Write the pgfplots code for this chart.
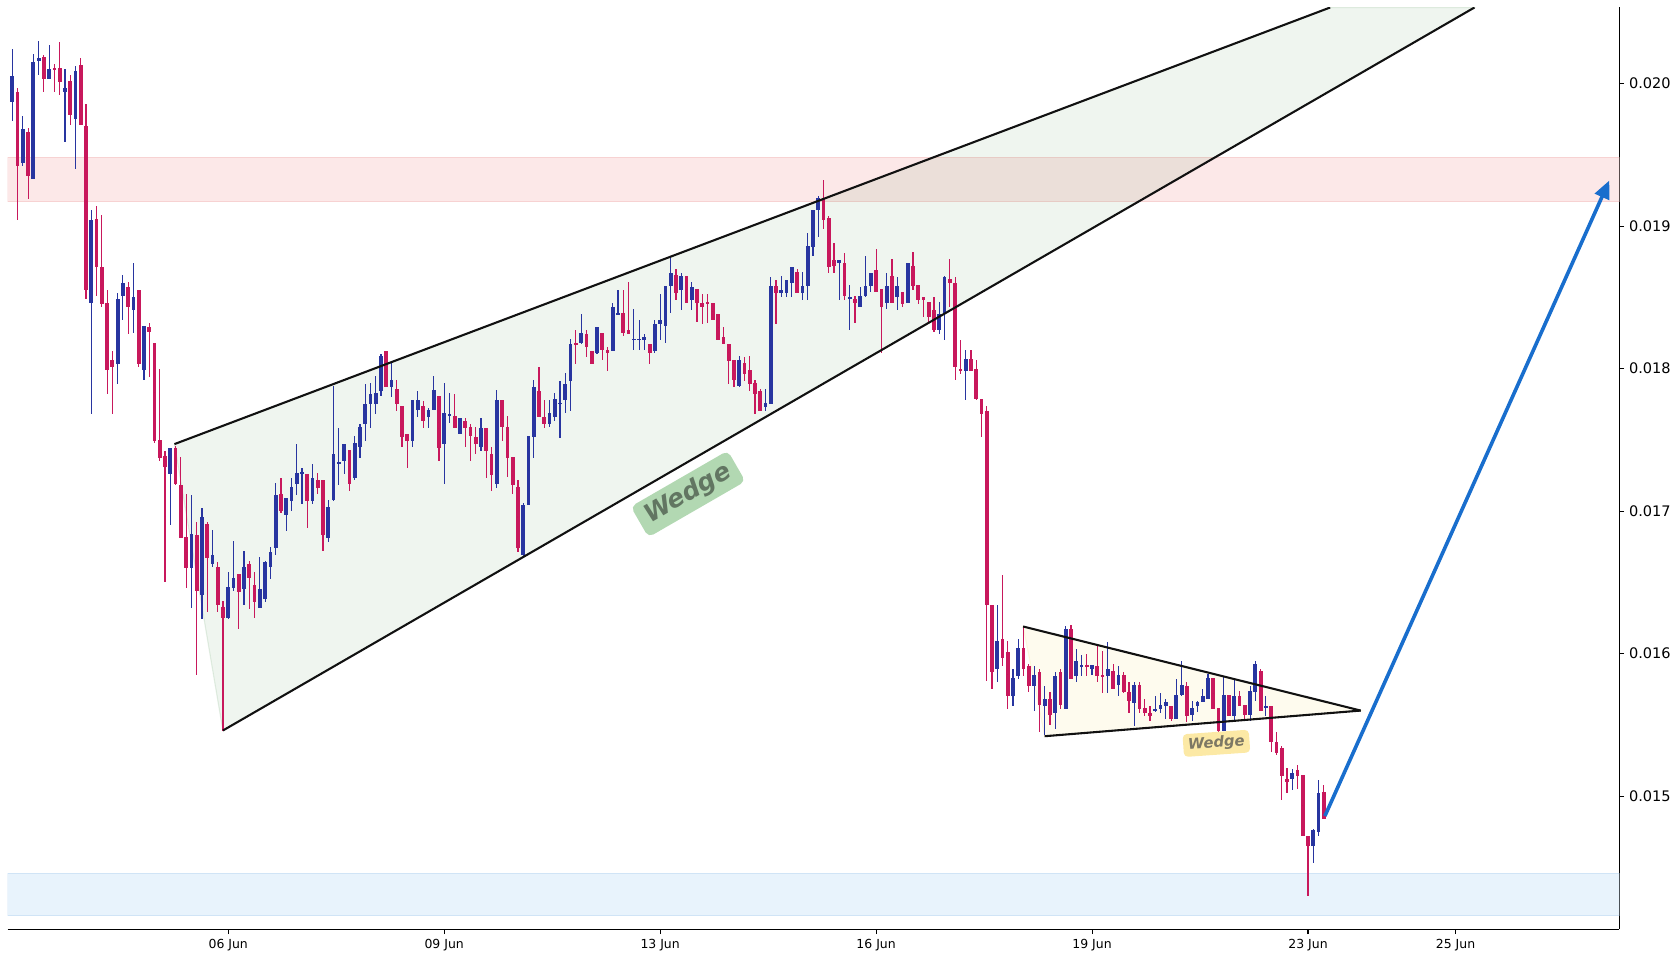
\documentclass[border=0pt]{standalone}
\usepackage{fontspec}
\setmainfont{DejaVu Sans}
\usepackage{pgfplots}
\usepackage{pgfplotstable}
\pgfplotsset{compat=1.18}
\usetikzlibrary{arrows.meta}
\definecolor{upc}{RGB}{40,53,160}
\definecolor{dnc}{RGB}{200,24,92}
\definecolor{bandRf}{RGB}{252,232,232}
\definecolor{bandRe}{RGB}{247,210,210}
\definecolor{bandBf}{RGB}{232,243,252}
\definecolor{bandBe}{RGB}{208,228,246}
\definecolor{wedgeG}{RGB}{46,125,50}
\definecolor{triY}{RGB}{240,200,40}
\definecolor{labG}{RGB}{178,216,178}
\definecolor{labGt}{RGB}{98,118,98}
\definecolor{labY}{RGB}{252,233,165}
\definecolor{labYt}{RGB}{125,120,100}
\definecolor{arrB}{RGB}{25,110,205}

\pgfplotstableread{
i o h l c
0 .01987 .02024 .01974 .02005
2 .01944 .01977 .01942 .01968
4 .01933 .02021 .01933 .02015
5 .02016 .02030 .02006 .02018
7 .02003 .02027 .02003 .02010
10 .01994 .02010 .01959 .01997
12 .01975 .02012 .01940 .02009
15 .01846 .01911 .01768 .01904
20 .01803 .01853 .01789 .01849
21 .01851 .01866 .01834 .01860
23 .01841 .01874 .01825 .01850
25 .01799 .01830 .01792 .01830
30 .01726 .01744 .01690 .01744
34 .01660 .01711 .01632 .01684
36 .01641 .01702 .01624 .01696
38 .01663 .01687 .01661 .01669
41 .01625 .01657 .01624 .01647
42 .01646 .01679 .01644 .01653
44 .01645 .01672 .01634 .01661
47 .01632 .01668 .01632 .01645
48 .01638 .01665 .01636 .01664
49 .01661 .01675 .01652 .01671
50 .01674 .01720 .01669 .01711
52 .01697 .01709 .01686 .01709
53 .01707 .01723 .01700 .01717
54 .01719 .01747 .01711 .01727
55 .01726 .01730 .01705 .01727
57 .01707 .01733 .01705 .01723
60 .01681 .01708 .01678 .01703
61 .01708 .01788 .01707 .01740
62 .01733 .01758 .01718 .01734
63 .01735 .01747 .01726 .01747
65 .01723 .01753 .01722 .01748
66 .01745 .01761 .01737 .01759
67 .01761 .01789 .01749 .01775
68 .01775 .01790 .01758 .01782
69 .01775 .01795 .01768 .01783
70 .01784 .01810 .01781 .01809
72 .01787 .01804 .01780 .01792
76 .01749 .01778 .01745 .01778
77 .01771 .01784 .01766 .01778
79 .01766 .01772 .01758 .01771
80 .01771 .01795 .01771 .01785
82 .01747 .01790 .01719 .01769
83 .01767 .01783 .01762 .01768
85 .01754 .01765 .01754 .01765
89 .01745 .01765 .01742 .01758
92 .01719 .01785 .01716 .01778
97 .01669 .01706 .01668 .01704
98 .01704 .01753 .01704 .01753
99 .01752 .01792 .01737 .01787
102 .01761 .01778 .01759 .01769
103 .01766 .01783 .01763 .01779
104 .01775 .01791 .01751 .01776
105 .01778 .01797 .01769 .01789
106 .01791 .01821 .01770 .01817
108 .01818 .01838 .01817 .01825
111 .01811 .01829 .01810 .01829
114 .01812 .01846 .01812 .01843
115 .01838 .01855 .01838 .01839
118 .01820 .01842 .01813 .01821
119 .01820 .01834 .01813 .01821
120 .01820 .01824 .01813 .01822
122 .01812 .01834 .01811 .01831
123 .01831 .01852 .01820 .01834
124 .01830 .01858 .01818 .01858
125 .01858 .01878 .01839 .01867
127 .01855 .01867 .01841 .01865
129 .01848 .01861 .01841 .01857
138 .01788 .01809 .01787 .01806
143 .01773 .01786 .01770 .01776
144 .01775 .01864 .01775 .01858
146 .01853 .01865 .01850 .01855
147 .01853 .01862 .01850 .01862
148 .01860 .01871 .01850 .01871
150 .01853 .01868 .01848 .01858
151 .01858 .01895 .01848 .01886
152 .01885 .01911 .01879 .01911
153 .01911 .01921 .01892 .01920
157 .01874 .01876 .01848 .01876
159 .01849 .01859 .01827 .01850
161 .01843 .01857 .01843 .01851
162 .01851 .01879 .01850 .01858
163 .01858 .01867 .01854 .01867
166 .01846 .01867 .01842 .01858
168 .01850 .01864 .01841 .01858
170 .01846 .01874 .01846 .01874
176 .01827 .01847 .01824 .01838
177 .01838 .01865 .01820 .01864
181 .01798 .01813 .01778 .01807
187 .01589 .01634 .01580 .01609
190 .01570 .01589 .01563 .01583
191 .01584 .01610 .01582 .01604
194 .01577 .01591 .01560 .01585
196 .01563 .01577 .01543 .01568
198 .01558 .01587 .01547 .01584
200 .01561 .01619 .01561 .01617
202 .01584 .01603 .01580 .01595
203 .01591 .01599 .01584 .01592
205 .01589 .01592 .01585 .01592
208 .01584 .01608 .01572 .01589
210 .01578 .01591 .01570 .01585
213 .01565 .01580 .01549 .01578
217 .01560 .01570 .01559 .01561
218 .01561 .01572 .01558 .01564
219 .01563 .01568 .01554 .01566
221 .01554 .01582 .01554 .01571
222 .01571 .01595 .01570 .01578
224 .01557 .01567 .01553 .01562
225 .01563 .01567 .01559 .01566
226 .01566 .01575 .01566 .01570
227 .01568 .01586 .01568 .01583
230 .01546 .01584 .01546 .01571
232 .01556 .01582 .01553 .01570
235 .01557 .01577 .01553 .01574
236 .01573 .01595 .01567 .01593
238 .01562 .01570 .01556 .01563
243 .01512 .01519 .01504 .01516
247 .01465 .01477 .01453 .01476
248 .01475 .01511 .01472 .01502
}\upc

\pgfplotstableread{
i o h l c
1 .01994 .01997 .01904 .01942
3 .01966 .01969 .01919 .01935
6 .02019 .02020 .01994 .02003
8 .02011 .02014 .01994 .02010
9 .02011 .02029 .01992 .02001
11 .02002 .02006 .01971 .01978
13 .02013 .02018 .01971 .01971
14 .01970 .01986 .01849 .01855
16 .01905 .01914 .01851 .01871
17 .01871 .01908 .01843 .01845
18 .01846 .01855 .01782 .01799
19 .01806 .01812 .01768 .01801
22 .01857 .01861 .01824 .01843
24 .01855 .01855 .01801 .01803
26 .01829 .01832 .01794 .01826
27 .01818 .01818 .01748 .01749
28 .01750 .01800 .01735 .01737
29 .01739 .01742 .01650 .01731
31 .01744 .01746 .01718 .01719
32 .01718 .01738 .01681 .01681
33 .01682 .01712 .01646 .01660
35 .01683 .01692 .01585 .01644
37 .01691 .01692 .01629 .01667
39 .01661 .01664 .01629 .01634
40 .01633 .01637 .01546 .01625
43 .01656 .01656 .01617 .01643
45 .01663 .01665 .01631 .01653
46 .01648 .01657 .01625 .01636
51 .01712 .01723 .01699 .01700
56 .01726 .01726 .01688 .01707
58 .01722 .01727 .01712 .01716
59 .01722 .01722 .01672 .01683
64 .01743 .01743 .01714 .01719
71 .01812 .01812 .01787 .01787
73 .01786 .01792 .01770 .01775
74 .01774 .01774 .01745 .01752
75 .01754 .01754 .01730 .01749
78 .01774 .01777 .01758 .01763
81 .01781 .01781 .01735 .01744
84 .01767 .01782 .01758 .01758
86 .01763 .01765 .01745 .01758
87 .01759 .01761 .01735 .01753
88 .01752 .01759 .01740 .01747
90 .01758 .01758 .01723 .01742
91 .01740 .01745 .01714 .01725
93 .01778 .01778 .01749 .01759
94 .01759 .01767 .01724 .01737
95 .01738 .01738 .01712 .01718
96 .01717 .01722 .01671 .01674
100 .01784 .01801 .01766 .01766
101 .01766 .01778 .01758 .01761
107 .01818 .01827 .01803 .01817
109 .01824 .01827 .01808 .01815
110 .01812 .01812 .01803 .01803
112 .01825 .01825 .01806 .01813
113 .01813 .01815 .01798 .01811
116 .01839 .01855 .01823 .01825
117 .01827 .01861 .01824 .01824
121 .01817 .01817 .01803 .01811
126 .01866 .01870 .01848 .01853
128 .01865 .01865 .01846 .01846
130 .01856 .01856 .01833 .01846
131 .01846 .01852 .01831 .01843
132 .01847 .01852 .01832 .01845
133 .01846 .01846 .01834 .01834
134 .01838 .01838 .01820 .01820
135 .01822 .01829 .01817 .01817
136 .01817 .01817 .01789 .01805
137 .01806 .01806 .01787 .01792
139 .01804 .01808 .01791 .01796
140 .01799 .01809 .01784 .01789
141 .01790 .01792 .01768 .01782
142 .01784 .01786 .01770 .01770
145 .01858 .01862 .01831 .01853
149 .01868 .01870 .01853 .01853
154 .01920 .01932 .01898 .01904
155 .01906 .01907 .01867 .01871
156 .01876 .01888 .01867 .01872
158 .01874 .01881 .01848 .01851
160 .01849 .01851 .01832 .01846
164 .01869 .01884 .01854 .01854
165 .01856 .01856 .01811 .01843
167 .01865 .01877 .01846 .01846
169 .01854 .01854 .01843 .01845
171 .01872 .01882 .01855 .01858
172 .01859 .01859 .01845 .01848
173 .01850 .01850 .01836 .01848
174 .01847 .01847 .01833 .01836
175 .01841 .01850 .01826 .01827
178 .01863 .01877 .01843 .01860
179 .01860 .01864 .01792 .01801
180 .01800 .01820 .01796 .01798
182 .01807 .01813 .01798 .01798
183 .01800 .01806 .01778 .01779
184 .01779 .01779 .01752 .01768
185 .01770 .01774 .01581 .01634
186 .01634 .01634 .01575 .01587
188 .01610 .01655 .01591 .01597
189 .01601 .01609 .01561 .01570
192 .01604 .01619 .01584 .01589
193 .01591 .01593 .01573 .01577
195 .01587 .01589 .01545 .01564
197 .01568 .01573 .01550 .01557
199 .01587 .01589 .01561 .01564
201 .01617 .01620 .01582 .01582
204 .01592 .01600 .01584 .01591
206 .01591 .01607 .01580 .01584
207 .01585 .01602 .01572 .01584
209 .01588 .01593 .01575 .01575
211 .01585 .01587 .01572 .01573
212 .01573 .01580 .01558 .01567
214 .01578 .01580 .01558 .01561
215 .01562 .01568 .01556 .01558
216 .01558 .01563 .01553 .01556
220 .01563 .01563 .01553 .01554
223 .01577 .01580 .01552 .01556
228 .01583 .01583 .01561 .01561
229 .01562 .01562 .01541 .01546
231 .01571 .01571 .01556 .01556
233 .01570 .01574 .01563 .01563
234 .01564 .01564 .01553 .01557
237 .01588 .01589 .01560 .01560
239 .01563 .01563 .01531 .01538
240 .01538 .01545 .01529 .01530
241 .01534 .01535 .01497 .01514
242 .01512 .01520 .01502 .01510
244 .01518 .01522 .01505 .01514
245 .01515 .01515 .01472 .01472
246 .01472 .01472 .01430 .01465
249 .01503 .01508 .01484 .01484
}\dnc

\pgfplotsset{candle/.style={only marks, mark=*, mark size=0pt, mark options={draw=none, fill=none}, forget plot}}

\begin{document}
\begin{tikzpicture}
\begin{axis}[
  at={(0,0)}, anchor=south west,
  scale only axis, width=1160.5bp, height=663.7bp,
  xmin=-0.91, xmax=305.1, ymin=0.014065, ymax=0.020534,
  axis x line*=bottom, axis y line*=right,
  axis line style={line width=0.8bp, black},
  xtick={41,82,123,164,205,246,274},
  xticklabels={06 Jun,09 Jun,13 Jun,16 Jun,19 Jun,23 Jun,25 Jun},
  ytick={0.015,0.016,0.017,0.018,0.019,0.020},
  scaled y ticks=false,
  xticklabel style={font=\fontsize{9}{10}\selectfont},
  yticklabel style={font=\fontsize{10.5}{12}\selectfont, /pgf/number format/.cd, fixed, fixed zerofill, precision=3, assume math mode=true},
  tick align=outside, major tick length=3.5bp,
  tick style={line width=0.8bp, black},
  minor tick num=0,
  clip=true,
]
% zones
\filldraw[fill=bandRf, draw=bandRe, line width=0.7bp] (axis cs:-0.91,0.01917) rectangle (axis cs:305.1,0.01948);
\filldraw[fill=bandBf, draw=bandBe, line width=0.7bp] (axis cs:-0.91,0.01416) rectangle (axis cs:305.1,0.01446);
% wedge fills
\filldraw[fill=wedgeG, fill opacity=0.08, draw=wedgeG, draw opacity=0.12, line width=0.8bp]
  (axis cs:30.79,0.01747) -- (axis cs:250.2,0.020534) -- (axis cs:277.6,0.020534) -- (axis cs:39.98,0.01546) -- cycle;
\filldraw[fill=triY, fill opacity=0.08, draw=triY, draw opacity=0.12, line width=0.8bp]
  (axis cs:191.9,0.01619) -- (axis cs:256,0.01560) -- (axis cs:196,0.01542) -- cycle;
% wicks
\addplot[candle, error bars/.cd, y dir=both, y explicit, error mark=none,
  error bar style={line width=0.85bp, draw=upc}]
  table[x=i, y expr={(\thisrow{h}+\thisrow{l})/2}, y error expr={(\thisrow{h}-\thisrow{l})/2}] {\upc};
\addplot[candle, error bars/.cd, y dir=both, y explicit, error mark=none,
  error bar style={line width=0.85bp, draw=dnc}]
  table[x=i, y expr={(\thisrow{h}+\thisrow{l})/2}, y error expr={(\thisrow{h}-\thisrow{l})/2}] {\dnc};
% bodies
\addplot[candle, error bars/.cd, y dir=both, y explicit, error mark=none,
  error bar style={line width=2.7bp, draw=upc}]
  table[x=i, y expr={(\thisrow{o}+\thisrow{c})/2}, y error expr={max(abs(\thisrow{o}-\thisrow{c}),0.000012)/2}] {\upc};
\addplot[candle, error bars/.cd, y dir=both, y explicit, error mark=none,
  error bar style={line width=2.7bp, draw=dnc}]
  table[x=i, y expr={(\thisrow{o}+\thisrow{c})/2}, y error expr={max(abs(\thisrow{o}-\thisrow{c}),0.000012)/2}] {\dnc};
% pattern lines
\draw[line width=1.5bp, color={rgb,255:red,17;green,17;blue,17}] (axis cs:30.79,0.01747) -- (axis cs:250.2,0.020534);
\draw[line width=1.5bp, color={rgb,255:red,17;green,17;blue,17}] (axis cs:39.98,0.01546) -- (axis cs:277.6,0.020534);
\draw[line width=1.5bp, color={rgb,255:red,17;green,17;blue,17}] (axis cs:191.9,0.01619) -- (axis cs:256,0.01560);
\draw[line width=1.5bp, color={rgb,255:red,17;green,17;blue,17}] (axis cs:196,0.01542) -- (axis cs:256,0.01560);
% labels
\node[rotate=30, fill=labG, rounded corners=4bp, text=labGt, inner xsep=6bp, inner ysep=4bp,
  font=\fontsize{18}{20}\selectfont\bfseries\itshape] at (axis cs:128.3,0.01712) {Wedge};
\node[rotate=4, fill=labY, rounded corners=3bp, text=labYt, inner xsep=3.5bp, inner ysep=3bp,
  font=\fontsize{10.7}{12}\selectfont\bfseries\itshape] at (axis cs:228.6,0.01537) {Wedge};
% arrow
\draw[line width=2.6bp, arrB, -{Triangle[length=13bp,width=11bp]}] (axis cs:249.2,0.01486) -- (axis cs:303.2,0.01932);
\end{axis}
\path (-5.4bp,-22.1bp) rectangle (1204.2bp,669.1bp);
\end{tikzpicture}
\end{document}
